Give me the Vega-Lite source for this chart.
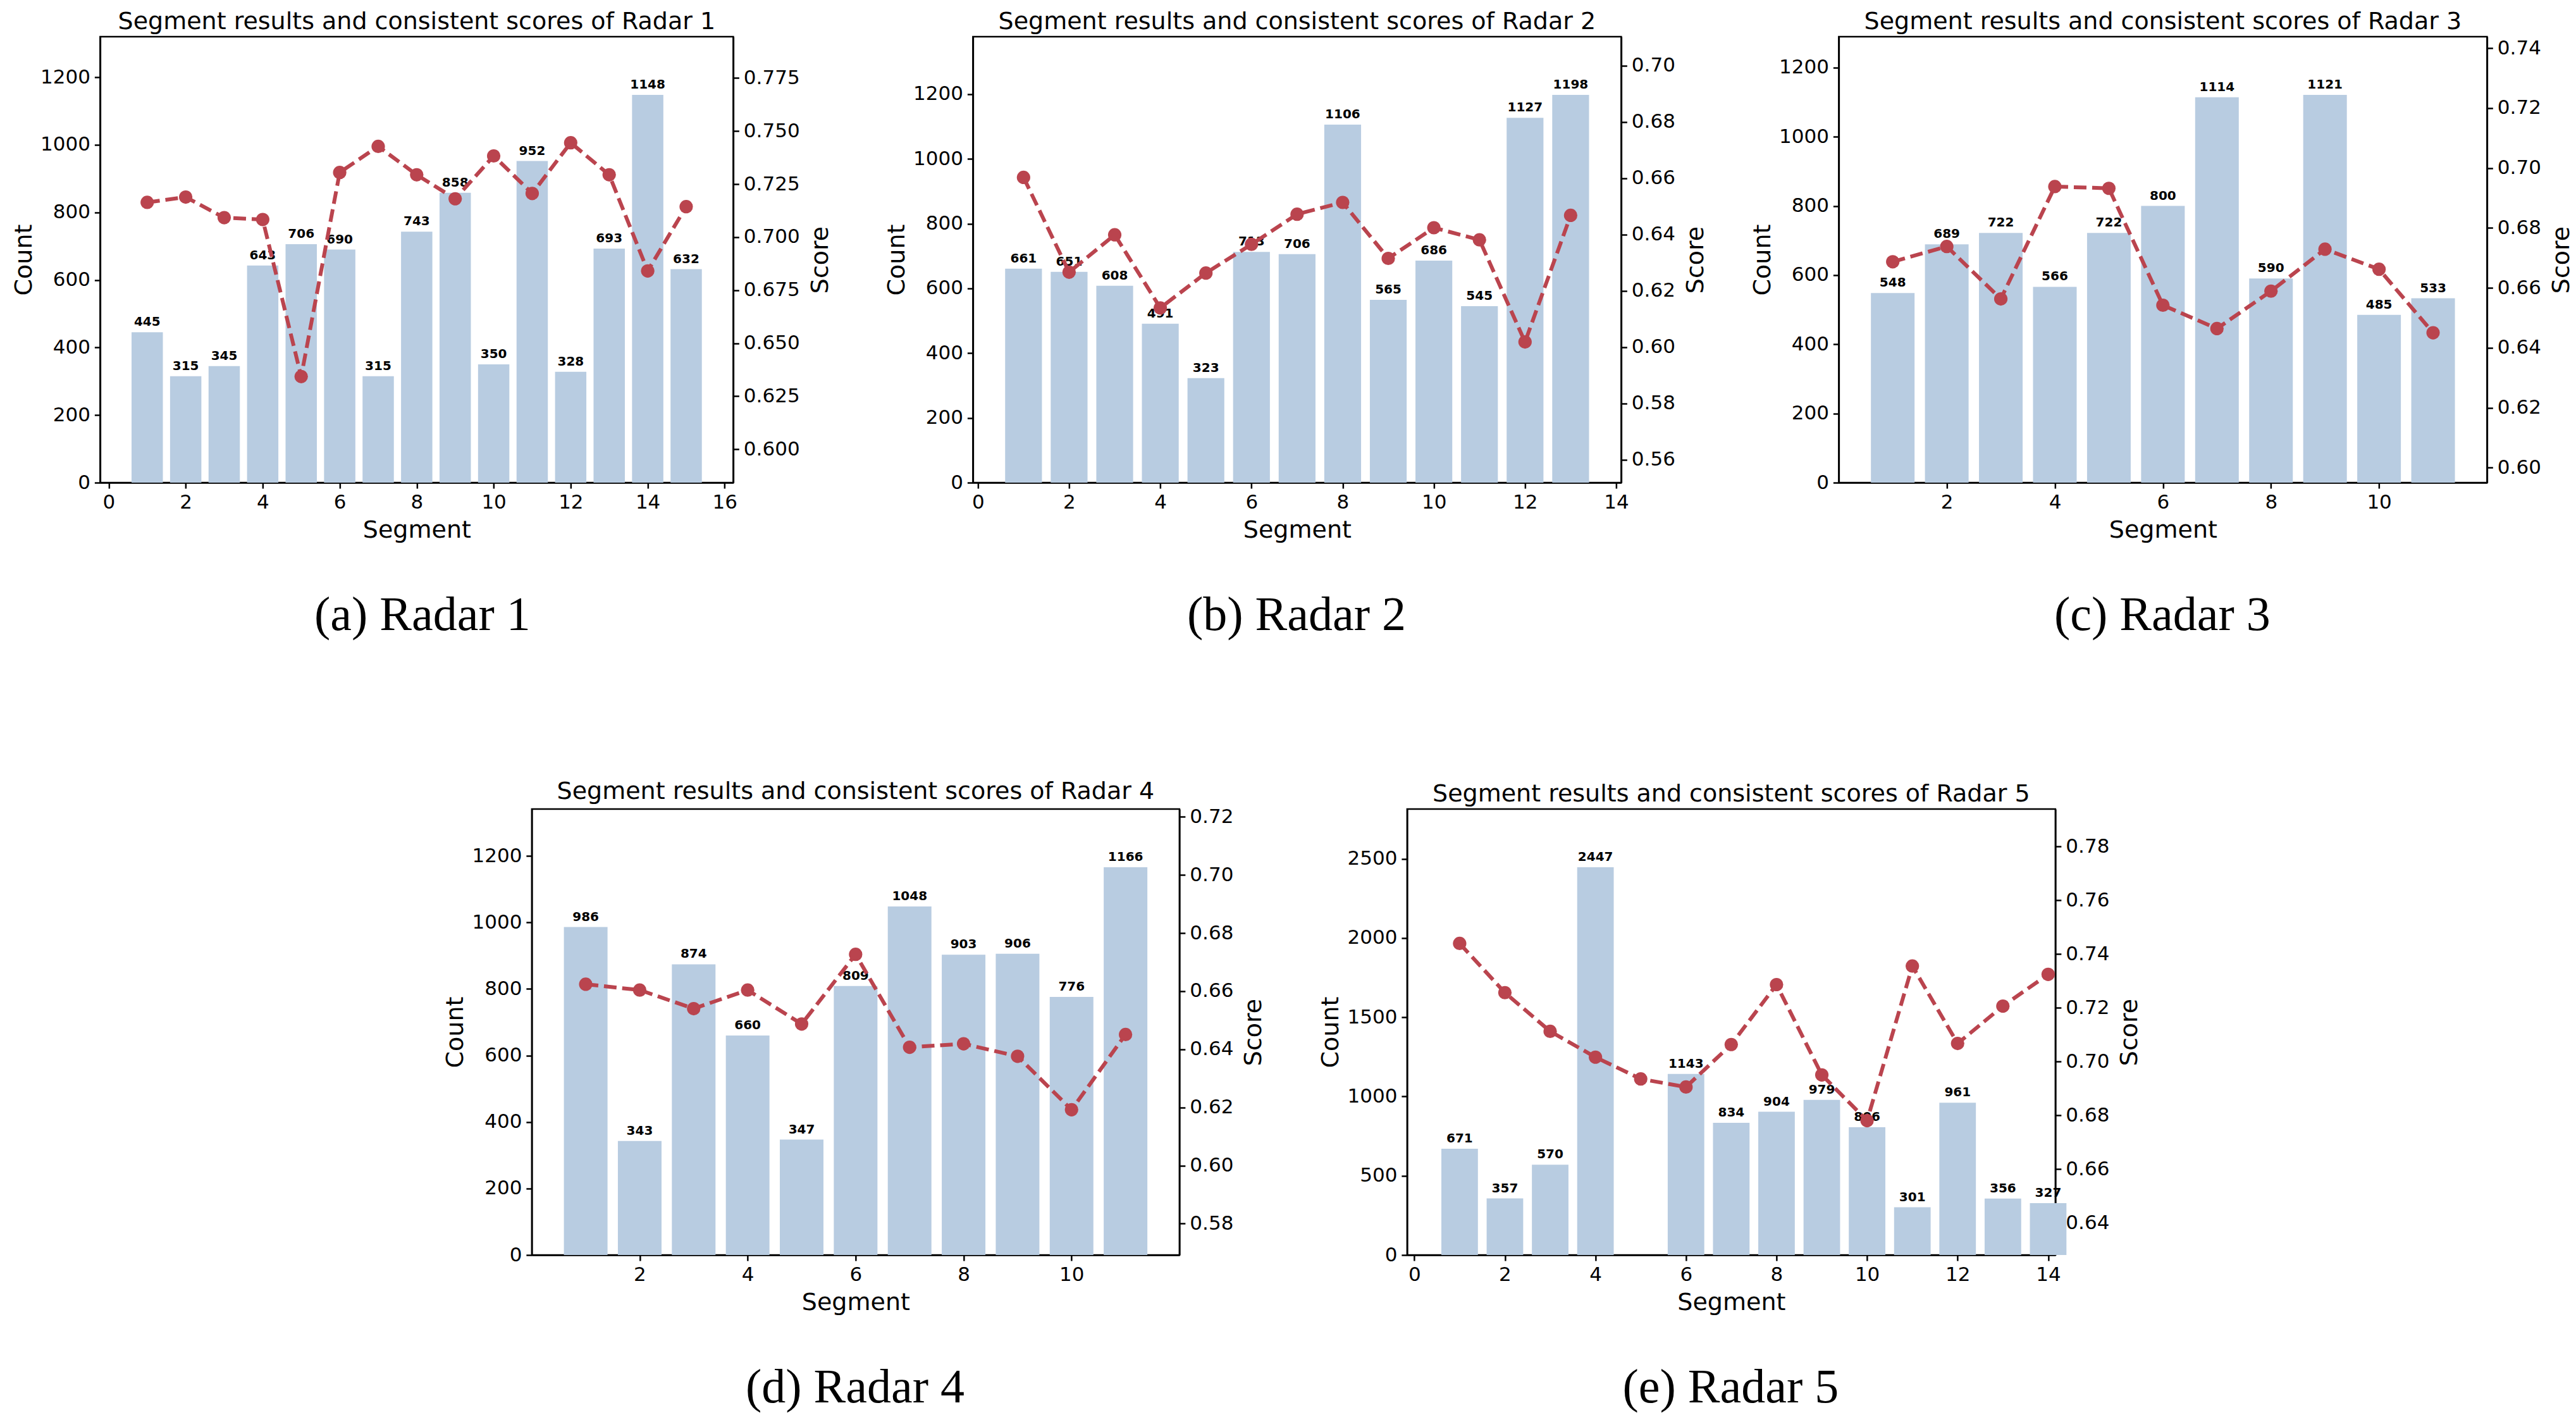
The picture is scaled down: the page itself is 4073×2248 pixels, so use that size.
{
"$schema": "https://vega.github.io/schema/vega-lite/v6.json",
"background": "white",
"padding": {"left": 18, "top": 14, "right": 4, "bottom": 4},
"datasets": {
"r1": [
{"segment":1,"count":445,"score":0.7164},{"segment":2,"count":315,"score":0.7189},{"segment":3,"count":345,"score":0.7092},{"segment":4,"count":643,"score":0.7083},{"segment":5,"count":706,"score":0.6343},{"segment":6,"count":690,"score":0.7305},{"segment":7,"count":315,"score":0.7428},{"segment":8,"count":743,"score":0.7294},{"segment":9,"count":858,"score":0.7181},{"segment":10,"count":350,"score":0.7383},{"segment":11,"count":952,"score":0.7206},{"segment":12,"count":328,"score":0.7445},{"segment":13,"count":693,"score":0.7294},{"segment":14,"count":1148,"score":0.6841},{"segment":15,"count":632,"score":0.7144}
],
"r2": [
{"segment":1,"count":661,"score":0.6603},{"segment":2,"count":651,"score":0.6266},{"segment":3,"count":608,"score":0.6399},{"segment":4,"count":491,"score":0.6139},{"segment":5,"count":323,"score":0.6263},{"segment":6,"count":713,"score":0.6365},{"segment":7,"count":706,"score":0.6472},{"segment":8,"count":1106,"score":0.6514},{"segment":9,"count":565,"score":0.6315},{"segment":10,"count":686,"score":0.6424},{"segment":11,"count":545,"score":0.6381},{"segment":12,"count":1127,"score":0.6018},{"segment":13,"count":1198,"score":0.6468}
],
"r3": [
{"segment":1,"count":548,"score":0.6687},{"segment":2,"count":689,"score":0.6738},{"segment":3,"count":722,"score":0.6563},{"segment":4,"count":566,"score":0.6938},{"segment":5,"count":722,"score":0.6932},{"segment":6,"count":800,"score":0.6542},{"segment":7,"count":1114,"score":0.6464},{"segment":8,"count":590,"score":0.6589},{"segment":9,"count":1121,"score":0.6729},{"segment":10,"count":485,"score":0.6662},{"segment":11,"count":533,"score":0.6450}
],
"r4": [
{"segment":1,"count":986,"score":0.6624},{"segment":2,"count":343,"score":0.6604},{"segment":3,"count":874,"score":0.6540},{"segment":4,"count":660,"score":0.6604},{"segment":5,"count":347,"score":0.6487},{"segment":6,"count":809,"score":0.6727},{"segment":7,"count":1048,"score":0.6407},{"segment":8,"count":903,"score":0.6419},{"segment":9,"count":906,"score":0.6376},{"segment":10,"count":776,"score":0.6192},{"segment":11,"count":1166,"score":0.6451}
],
"r5": [
{"segment":1,"count":671,"score":0.7440},{"segment":2,"count":357,"score":0.7257},{"segment":3,"count":570,"score":0.7113},{"segment":4,"count":2447,"score":0.7017},{"segment":5,"count":null,"score":0.6936},{"segment":6,"count":1143,"score":0.6906},{"segment":7,"count":834,"score":0.7064},{"segment":8,"count":904,"score":0.7287},{"segment":9,"count":979,"score":0.6951},{"segment":10,"count":806,"score":0.6781},{"segment":11,"count":301,"score":0.7356},{"segment":12,"count":961,"score":0.7068},{"segment":13,"count":356,"score":0.7207},{"segment":14,"count":327,"score":0.7325}
]
},
"vconcat": [
{"hconcat": [
{"vconcat": [{
"width": 1001, "height": 705,
"title": {"text": "Segment results and consistent scores of Radar 1"},
"data": {"name": "r1"},
"layer": [
{"layer": [
{"transform": [{"filter": "isValid(datum.count)"}], "mark": {"type": "bar", "width": 49.5, "color": "#b8cce1"},
"encoding": {"x": {"field": "segment", "type": "quantitative", "scale": {"domain": [-0.14, 16.14], "nice": false, "zero": false}, "axis": {"title": "Segment", "values": [0,2,4,6,8,10,12,14,16], "format": "d"}},
"y": {"field": "count", "type": "quantitative", "scale": {"domain": [0, 1320.2], "nice": false}, "axis": {"title": "Count", "orient": "left", "values": [0,200,400,600,800,1000,1200], "format": "d"}}}},
{"transform": [{"filter": "isValid(datum.count)"}], "mark": {"type": "text", "baseline": "alphabetic", "dy": -10, "fontSize": 20, "fontWeight": "bold", "font": "DejaVu Sans", "color": "black"},
"encoding": {"x": {"field": "segment", "type": "quantitative", "scale": {"domain": [-0.14, 16.14], "nice": false, "zero": false}, "axis": {"title": "Segment", "values": [0,2,4,6,8,10,12,14,16], "format": "d"}},
"y": {"field": "count", "type": "quantitative", "scale": {"domain": [0, 1320.2], "nice": false}, "axis": {"title": "Count", "orient": "left", "values": [0,200,400,600,800,1000,1200], "format": "d"}},
"text": {"field": "count", "type": "quantitative", "format": "d"}}}
]},
{"layer": [
{"mark": {"type": "line", "color": "#ba444e", "strokeWidth": 6, "strokeDash": [20, 9]},
"encoding": {"x": {"field": "segment", "type": "quantitative", "scale": {"domain": [-0.14, 16.14], "nice": false, "zero": false}, "axis": {"title": "Segment", "values": [0,2,4,6,8,10,12,14,16], "format": "d"}},
"y": {"field": "score", "type": "quantitative", "scale": {"domain": [0.5843, 0.7945], "nice": false, "zero": false}, "axis": {"title": "Score", "orient": "right", "titleAngle": 270, "titleBaseline": "top", "values": [0.6,0.625,0.65,0.675,0.7,0.725,0.75,0.775], "format": ".3f"}}}},
{"mark": {"type": "point", "filled": true, "opacity": 1, "size": 450, "color": "#ba444e"},
"encoding": {"x": {"field": "segment", "type": "quantitative", "scale": {"domain": [-0.14, 16.14], "nice": false, "zero": false}, "axis": {"title": "Segment", "values": [0,2,4,6,8,10,12,14,16], "format": "d"}},
"y": {"field": "score", "type": "quantitative", "scale": {"domain": [0.5843, 0.7945], "nice": false, "zero": false}, "axis": {"title": "Score", "orient": "right", "titleAngle": 270, "titleBaseline": "top", "values": [0.6,0.625,0.65,0.675,0.7,0.725,0.75,0.775], "format": ".3f"}}}}
]}
],
"resolve": {"scale": {"y": "independent"}, "axis": {"y": "independent"}}
}],
"title": {"text": "(a) Radar 1", "orient": "bottom", "anchor": "middle", "frame": "bounds", "font": "Liberation Serif", "fontSize": 76, "fontWeight": "normal", "offset": 78}},

{"hconcat": [
{"vconcat": [{
"width": 1025, "height": 705,
"title": {"text": "Segment results and consistent scores of Radar 2"},
"data": {"name": "r2"},
"layer": [
{"layer": [
{"transform": [{"filter": "isValid(datum.count)"}], "mark": {"type": "bar", "width": 58.2, "color": "#b8cce1"},
"encoding": {"x": {"field": "segment", "type": "quantitative", "scale": {"domain": [-0.04, 14.04], "nice": false, "zero": false}, "axis": {"title": "Segment", "values": [0,2,4,6,8,10,12,14], "format": "d"}},
"y": {"field": "count", "type": "quantitative", "scale": {"domain": [0, 1377.7], "nice": false}, "axis": {"title": "Count", "orient": "left", "values": [0,200,400,600,800,1000,1200], "format": "d"}}}},
{"transform": [{"filter": "isValid(datum.count)"}], "mark": {"type": "text", "baseline": "alphabetic", "dy": -10, "fontSize": 20, "fontWeight": "bold", "font": "DejaVu Sans", "color": "black"},
"encoding": {"x": {"field": "segment", "type": "quantitative", "scale": {"domain": [-0.04, 14.04], "nice": false, "zero": false}, "axis": {"title": "Segment", "values": [0,2,4,6,8,10,12,14], "format": "d"}},
"y": {"field": "count", "type": "quantitative", "scale": {"domain": [0, 1377.7], "nice": false}, "axis": {"title": "Count", "orient": "left", "values": [0,200,400,600,800,1000,1200], "format": "d"}},
"text": {"field": "count", "type": "quantitative", "format": "d"}}}
]},
{"layer": [
{"mark": {"type": "line", "color": "#ba444e", "strokeWidth": 6, "strokeDash": [20, 9]},
"encoding": {"x": {"field": "segment", "type": "quantitative", "scale": {"domain": [-0.04, 14.04], "nice": false, "zero": false}, "axis": {"title": "Segment", "values": [0,2,4,6,8,10,12,14], "format": "d"}},
"y": {"field": "score", "type": "quantitative", "scale": {"domain": [0.5518, 0.7103], "nice": false, "zero": false}, "axis": {"title": "Score", "orient": "right", "titleAngle": 270, "titleBaseline": "top", "values": [0.56,0.58,0.6,0.62,0.64,0.66,0.68,0.7], "format": ".2f"}}}},
{"mark": {"type": "point", "filled": true, "opacity": 1, "size": 450, "color": "#ba444e"},
"encoding": {"x": {"field": "segment", "type": "quantitative", "scale": {"domain": [-0.04, 14.04], "nice": false, "zero": false}, "axis": {"title": "Segment", "values": [0,2,4,6,8,10,12,14], "format": "d"}},
"y": {"field": "score", "type": "quantitative", "scale": {"domain": [0.5518, 0.7103], "nice": false, "zero": false}, "axis": {"title": "Score", "orient": "right", "titleAngle": 270, "titleBaseline": "top", "values": [0.56,0.58,0.6,0.62,0.64,0.66,0.68,0.7], "format": ".2f"}}}}
]}
],
"resolve": {"scale": {"y": "independent"}, "axis": {"y": "independent"}}
}],
"title": {"text": "(b) Radar 2", "orient": "bottom", "anchor": "middle", "frame": "bounds", "font": "Liberation Serif", "fontSize": 76, "fontWeight": "normal", "offset": 78}},

{"vconcat": [{
"width": 1025, "height": 705,
"title": {"text": "Segment results and consistent scores of Radar 3"},
"data": {"name": "r3"},
"layer": [
{"layer": [
{"transform": [{"filter": "isValid(datum.count)"}], "mark": {"type": "bar", "width": 69, "color": "#b8cce1"},
"encoding": {"x": {"field": "segment", "type": "quantitative", "scale": {"domain": [0.06, 11.94], "nice": false, "zero": false}, "axis": {"title": "Segment", "values": [2,4,6,8,10], "format": "d"}},
"y": {"field": "count", "type": "quantitative", "scale": {"domain": [0, 1289.15], "nice": false}, "axis": {"title": "Count", "orient": "left", "values": [0,200,400,600,800,1000,1200], "format": "d"}}}},
{"transform": [{"filter": "isValid(datum.count)"}], "mark": {"type": "text", "baseline": "alphabetic", "dy": -10, "fontSize": 20, "fontWeight": "bold", "font": "DejaVu Sans", "color": "black"},
"encoding": {"x": {"field": "segment", "type": "quantitative", "scale": {"domain": [0.06, 11.94], "nice": false, "zero": false}, "axis": {"title": "Segment", "values": [2,4,6,8,10], "format": "d"}},
"y": {"field": "count", "type": "quantitative", "scale": {"domain": [0, 1289.15], "nice": false}, "axis": {"title": "Count", "orient": "left", "values": [0,200,400,600,800,1000,1200], "format": "d"}},
"text": {"field": "count", "type": "quantitative", "format": "d"}}}
]},
{"layer": [
{"mark": {"type": "line", "color": "#ba444e", "strokeWidth": 6, "strokeDash": [20, 9]},
"encoding": {"x": {"field": "segment", "type": "quantitative", "scale": {"domain": [0.06, 11.94], "nice": false, "zero": false}, "axis": {"title": "Segment", "values": [2,4,6,8,10], "format": "d"}},
"y": {"field": "score", "type": "quantitative", "scale": {"domain": [0.595, 0.7438], "nice": false, "zero": false}, "axis": {"title": "Score", "orient": "right", "titleAngle": 270, "titleBaseline": "top", "values": [0.6,0.62,0.64,0.66,0.68,0.7,0.72,0.74], "format": ".2f"}}}},
{"mark": {"type": "point", "filled": true, "opacity": 1, "size": 450, "color": "#ba444e"},
"encoding": {"x": {"field": "segment", "type": "quantitative", "scale": {"domain": [0.06, 11.94], "nice": false, "zero": false}, "axis": {"title": "Segment", "values": [2,4,6,8,10], "format": "d"}},
"y": {"field": "score", "type": "quantitative", "scale": {"domain": [0.595, 0.7438], "nice": false, "zero": false}, "axis": {"title": "Score", "orient": "right", "titleAngle": 270, "titleBaseline": "top", "values": [0.6,0.62,0.64,0.66,0.68,0.7,0.72,0.74], "format": ".2f"}}}}
]}
],
"resolve": {"scale": {"y": "independent"}, "axis": {"y": "independent"}}
}],
"title": {"text": "(c) Radar 3", "orient": "bottom", "anchor": "middle", "frame": "bounds", "font": "Liberation Serif", "fontSize": 76, "fontWeight": "normal", "offset": 78}}
], "spacing": 64}
], "spacing": 80},

{"hconcat": [
{"vconcat": [{
"width": 1024, "height": 705,
"title": {"text": "Segment results and consistent scores of Radar 4"},
"data": {"name": "r4"},
"layer": [
{"layer": [
{"transform": [{"filter": "isValid(datum.count)"}], "mark": {"type": "bar", "width": 69, "color": "#b8cce1"},
"encoding": {"x": {"field": "segment", "type": "quantitative", "scale": {"domain": [0.06, 11.94], "nice": false, "zero": false}, "axis": {"title": "Segment", "values": [2,4,6,8,10], "format": "d"}},
"y": {"field": "count", "type": "quantitative", "scale": {"domain": [0, 1340.9], "nice": false}, "axis": {"title": "Count", "orient": "left", "values": [0,200,400,600,800,1000,1200], "format": "d"}}}},
{"transform": [{"filter": "isValid(datum.count)"}], "mark": {"type": "text", "baseline": "alphabetic", "dy": -10, "fontSize": 20, "fontWeight": "bold", "font": "DejaVu Sans", "color": "black"},
"encoding": {"x": {"field": "segment", "type": "quantitative", "scale": {"domain": [0.06, 11.94], "nice": false, "zero": false}, "axis": {"title": "Segment", "values": [2,4,6,8,10], "format": "d"}},
"y": {"field": "count", "type": "quantitative", "scale": {"domain": [0, 1340.9], "nice": false}, "axis": {"title": "Count", "orient": "left", "values": [0,200,400,600,800,1000,1200], "format": "d"}},
"text": {"field": "count", "type": "quantitative", "format": "d"}}}
]},
{"layer": [
{"mark": {"type": "line", "color": "#ba444e", "strokeWidth": 6, "strokeDash": [20, 9]},
"encoding": {"x": {"field": "segment", "type": "quantitative", "scale": {"domain": [0.06, 11.94], "nice": false, "zero": false}, "axis": {"title": "Segment", "values": [2,4,6,8,10], "format": "d"}},
"y": {"field": "score", "type": "quantitative", "scale": {"domain": [0.5692, 0.7227], "nice": false, "zero": false}, "axis": {"title": "Score", "orient": "right", "titleAngle": 270, "titleBaseline": "top", "values": [0.58,0.6,0.62,0.64,0.66,0.68,0.7,0.72], "format": ".2f"}}}},
{"mark": {"type": "point", "filled": true, "opacity": 1, "size": 450, "color": "#ba444e"},
"encoding": {"x": {"field": "segment", "type": "quantitative", "scale": {"domain": [0.06, 11.94], "nice": false, "zero": false}, "axis": {"title": "Segment", "values": [2,4,6,8,10], "format": "d"}},
"y": {"field": "score", "type": "quantitative", "scale": {"domain": [0.5692, 0.7227], "nice": false, "zero": false}, "axis": {"title": "Score", "orient": "right", "titleAngle": 270, "titleBaseline": "top", "values": [0.58,0.6,0.62,0.64,0.66,0.68,0.7,0.72], "format": ".2f"}}}}
]}
],
"resolve": {"scale": {"y": "independent"}, "axis": {"y": "independent"}}
}],
"title": {"text": "(d) Radar 4", "orient": "bottom", "anchor": "middle", "frame": "bounds", "font": "Liberation Serif", "fontSize": 76, "fontWeight": "normal", "offset": 78}},

{"vconcat": [{
"width": 1025, "height": 705,
"title": {"text": "Segment results and consistent scores of Radar 5"},
"data": {"name": "r5"},
"layer": [
{"layer": [
{"transform": [{"filter": "isValid(datum.count)"}], "mark": {"type": "bar", "width": 57.8, "color": "#b8cce1"},
"encoding": {"x": {"field": "segment", "type": "quantitative", "scale": {"domain": [-0.09, 14.09], "nice": false, "zero": false}, "axis": {"title": "Segment", "values": [0,2,4,6,8,10,12,14], "format": "d"}},
"y": {"field": "count", "type": "quantitative", "scale": {"domain": [0, 2814.05], "nice": false}, "axis": {"title": "Count", "orient": "left", "values": [0,500,1000,1500,2000,2500], "format": "d"}}}},
{"transform": [{"filter": "isValid(datum.count)"}], "mark": {"type": "text", "baseline": "alphabetic", "dy": -10, "fontSize": 20, "fontWeight": "bold", "font": "DejaVu Sans", "color": "black"},
"encoding": {"x": {"field": "segment", "type": "quantitative", "scale": {"domain": [-0.09, 14.09], "nice": false, "zero": false}, "axis": {"title": "Segment", "values": [0,2,4,6,8,10,12,14], "format": "d"}},
"y": {"field": "count", "type": "quantitative", "scale": {"domain": [0, 2814.05], "nice": false}, "axis": {"title": "Count", "orient": "left", "values": [0,500,1000,1500,2000,2500], "format": "d"}},
"text": {"field": "count", "type": "quantitative", "format": "d"}}}
]},
{"layer": [
{"mark": {"type": "line", "color": "#ba444e", "strokeWidth": 6, "strokeDash": [20, 9]},
"encoding": {"x": {"field": "segment", "type": "quantitative", "scale": {"domain": [-0.09, 14.09], "nice": false, "zero": false}, "axis": {"title": "Segment", "values": [0,2,4,6,8,10,12,14], "format": "d"}},
"y": {"field": "score", "type": "quantitative", "scale": {"domain": [0.6281, 0.794], "nice": false, "zero": false}, "axis": {"title": "Score", "orient": "right", "titleAngle": 270, "titleBaseline": "top", "values": [0.64,0.66,0.68,0.7,0.72,0.74,0.76,0.78], "format": ".2f"}}}},
{"mark": {"type": "point", "filled": true, "opacity": 1, "size": 450, "color": "#ba444e"},
"encoding": {"x": {"field": "segment", "type": "quantitative", "scale": {"domain": [-0.09, 14.09], "nice": false, "zero": false}, "axis": {"title": "Segment", "values": [0,2,4,6,8,10,12,14], "format": "d"}},
"y": {"field": "score", "type": "quantitative", "scale": {"domain": [0.6281, 0.794], "nice": false, "zero": false}, "axis": {"title": "Score", "orient": "right", "titleAngle": 270, "titleBaseline": "top", "values": [0.64,0.66,0.68,0.7,0.72,0.74,0.76,0.78], "format": ".2f"}}}}
]}
],
"resolve": {"scale": {"y": "independent"}, "axis": {"y": "independent"}}
}],
"title": {"text": "(e) Radar 5", "orient": "bottom", "anchor": "middle", "frame": "bounds", "font": "Liberation Serif", "fontSize": 76, "fontWeight": "normal", "offset": 78}}
], "spacing": 80}
],
"spacing": 220,
"center": true,
"config": {
"font": "DejaVu Sans",
"view": {"stroke": "black", "strokeWidth": 2.5},
"axis": {"grid": false, "domainColor": "black", "domainWidth": 2.5, "tickColor": "black", "tickWidth": 2.5, "tickSize": 9, "labelFont": "DejaVu Sans", "labelFontSize": 31, "labelColor": "black", "labelPadding": 7, "labelFlush": false, "labelOverlap": false, "titleFont": "DejaVu Sans", "titleFontSize": 38, "titleFontWeight": "normal", "titleColor": "black", "titlePadding": 14},
"axisLeft": {"titlePadding": 6},
"axisRight": {"titlePadding": 14},
"axisBottom": {"titlePadding": 10},
"title": {"font": "DejaVu Sans", "fontSize": 38, "fontWeight": "normal", "color": "black", "offset": 4, "anchor": "middle", "frame": "group"}
}
}
